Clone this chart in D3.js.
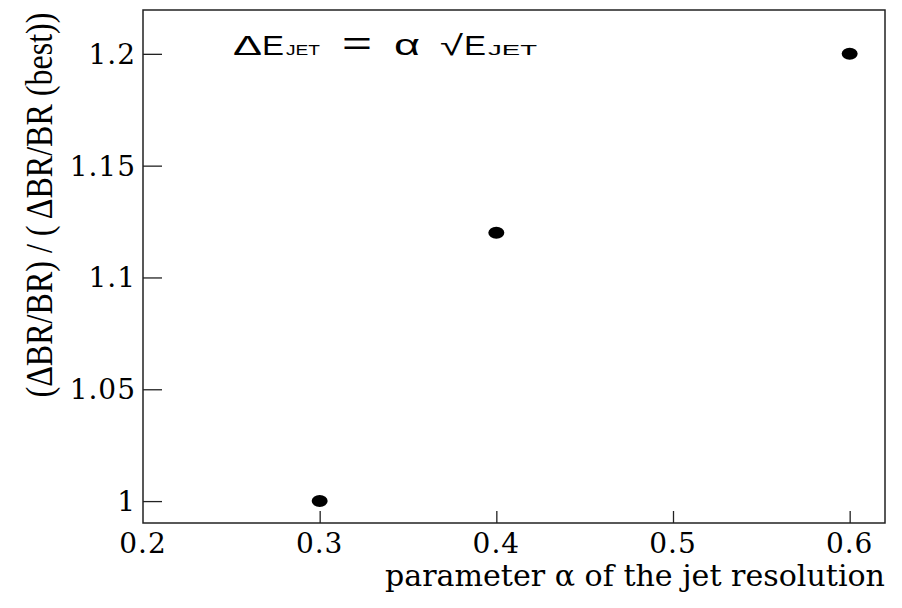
<!DOCTYPE html>
<html>
<head>
<meta charset="utf-8">
<script src="https://cdn.jsdelivr.net/npm/d3@7"></script>
<style>
  html, body { margin: 0; padding: 0; background: #fff; }
</style>
</head>
<body>
<div id="chart"></div>
<script>
// datos
const alphaValues = [0.3, 0.4, 0.6];
const ratioValues = [1.0, 1.12, 1.2];
const xTicks = [0.3, 0.4, 0.5, 0.6];
const xTickLabels = ["0.2", "0.3", "0.4", "0.5", "0.6"];
const yTicks = [1, 1.05, 1.1, 1.15, 1.2];
const yTickLabels = ["1", "1.05", "1.1", "1.15", "1.2"];

const width = 902;
const height = 608;
const margin = { top: 10, right: 17, bottom: 85, left: 143 };
const serif = "'DejaVu Serif', 'Liberation Serif', serif";
const sans = "'Liberation Sans', Arial, sans-serif";

const svg = d3.select("#chart")
  .append("svg")
  .attr("width", width)
  .attr("height", height)
  .style("display", "block");

const x = d3.scaleLinear()
  .domain([0.2, 0.62])
  .range([margin.left, width - margin.right]);

const y = d3.scaleLinear()
  .domain([0.9902, 1.2196])
  .range([height - margin.bottom, margin.top]);

// marco
svg.append("rect")
  .attr("x", x(0.2))
  .attr("y", y(1.2196))
  .attr("width", x(0.62) - x(0.2))
  .attr("height", y(0.9902) - y(1.2196))
  .attr("fill", "none")
  .attr("stroke", "#222")
  .attr("stroke-width", 1.5);

// eje y: ticks hacia dentro
const yAxis = d3.axisRight(y)
  .tickValues(yTicks)
  .tickSize(19)
  .tickFormat("");

svg.append("g")
  .attr("transform", `translate(${x(0.2)},0)`)
  .call(yAxis)
  .call((g) => g.select(".domain").remove())
  .call((g) => g.selectAll(".tick line").attr("stroke", "#222").attr("stroke-width", 1.3));

svg.append("g")
  .selectAll("text")
  .data(yTicks)
  .join("text")
  .attr("x", x(0.2) - 7)
  .attr("y", (d) => y(d) + 10)
  .attr("text-anchor", "end")
  .attr("font-family", serif)
  .attr("font-size", 28)
  .attr("letter-spacing", 1)
  .attr("fill", "#000")
  .text((d, i) => yTickLabels[i]);

// eje x: ticks hacia dentro
const xAxis = d3.axisTop(x)
  .tickValues(xTicks)
  .tickSize(12)
  .tickFormat("");

svg.append("g")
  .attr("transform", `translate(0,${y(0.9902)})`)
  .call(xAxis)
  .call((g) => g.select(".domain").remove())
  .call((g) => g.selectAll(".tick line").attr("stroke", "#222").attr("stroke-width", 1.3));

svg.append("g")
  .selectAll("text")
  .data([0.2, 0.3, 0.4, 0.5, 0.6])
  .join("text")
  .attr("x", (d) => x(d))
  .attr("y", y(0.9902) + 30)
  .attr("text-anchor", "middle")
  .attr("font-family", serif)
  .attr("font-size", 28)
  .attr("letter-spacing", 1)
  .attr("fill", "#000")
  .text((d, i) => xTickLabels[i]);

// puntos
svg.append("g")
  .selectAll("ellipse")
  .data(alphaValues)
  .join("ellipse")
  .attr("cx", (d) => x(d))
  .attr("cy", (d, i) => y(ratioValues[i]))
  .attr("rx", 8)
  .attr("ry", 6)
  .attr("fill", "#000");

// título eje x
svg.append("text")
  .attr("x", width - margin.right)
  .attr("y", 586)
  .attr("text-anchor", "end")
  .attr("font-family", serif)
  .attr("font-size", 29)
  .attr("textLength", 500)
  .attr("lengthAdjust", "spacingAndGlyphs")
  .attr("fill", "#000")
  .text("parameter α of the jet resolution");

// título eje y: letra estrecha, se comprime a lo largo del texto
const yLabel = svg.append("text")
  .attr("text-anchor", "middle")
  .attr("font-family", "'Liberation Serif', serif")
  .attr("font-size", 38)
  .attr("fill", "#000")
  .text("(ΔBR/BR) / ( ΔBR/BR (best))");

const yLabelLen = yLabel.node().getComputedTextLength() || 460;
const yLabelScale = Math.min(1, 385 / yLabelLen);
yLabel.attr("transform", `translate(52,205) rotate(-90) scale(${yLabelScale},1)`);

// fórmula: cada pieza en su sitio
const formulaParts = [
  { t: "Δ", x: 233, w: 29, size: 28 },
  { t: "E", x: 262, w: 22, size: 28 },
  { t: "JET", x: 286, w: 34, size: 15 },
  { t: "=", x: 342, w: 30, size: 34 },
  { t: "α", x: 394, w: 26, size: 30 },
  { t: "√", x: 440, w: 23, size: 28 },
  { t: "E", x: 464, w: 22, size: 28 },
  { t: "JET", x: 488, w: 49, size: 15 },
];

svg.append("g")
  .selectAll("text")
  .data(formulaParts)
  .join("text")
  .attr("x", (d) => d.x)
  .attr("y", 55)
  .attr("font-family", sans)
  .attr("font-size", (d) => d.size)
  .attr("textLength", (d) => d.w)
  .attr("lengthAdjust", "spacingAndGlyphs")
  .attr("fill", "#000")
  .text((d) => d.t);
</script>
</body>
</html>
